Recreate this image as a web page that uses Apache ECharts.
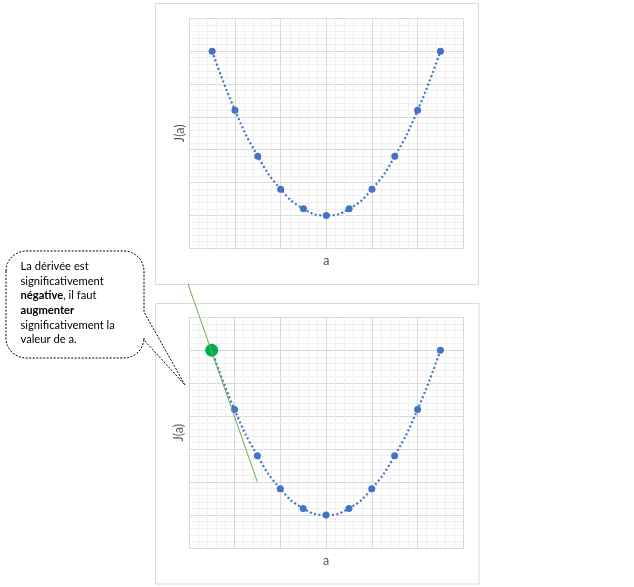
<!DOCTYPE html>
<html>
<head>
<meta charset="utf-8">
<script src="https://cdn.jsdelivr.net/npm/echarts@6/dist/echarts.min.js"></script>
<style>
  html, body { margin: 0; padding: 0; background: #fff; }
  #main { width: 634px; height: 587px; }
</style>
</head>
<body>
<div id="main"></div>
<script>
    // valeurs de a et J(a)
    const aValues = [-2.5, -2, -1.5, -1, -0.5, 0, 0.5, 1, 1.5, 2, 2.5];
    const jValues = [5, 3.2, 1.8, 0.8, 0.2, 0, 0.2, 0.8, 1.8, 3.2, 5];
    // point courant et tangente (graphique du bas)
    const currentPoint = [[-2.5, 5]];
    const tangentLine = [[-3.04, 7.1], [-1.5, 1]];

    const pts = aValues.map((a, i) => [a, jValues[i]]);
    const chart = echarts.init(document.getElementById('main'));

    const FONT = 'Lato, "Open Sans", sans-serif';
    const BLUE = '#4472C4', GRID = '#d9d9d9', MINOR = '#f0f0f0';

    const X = (gi) => ({
        type: 'value', gridIndex: gi, min: -3, max: 3, interval: 1,
        name: 'a', nameLocation: 'middle', nameGap: 6,
        nameTextStyle: {color: '#595959', fontFamily: FONT, fontSize: 12.5},
        axisLabel: {show: false}, axisTick: {show: false}, axisLine: {show: false},
        splitLine: {show: true, lineStyle: {color: GRID, width: 1}},
        minorTick: {show: false, splitNumber: 5},
        minorSplitLine: {show: true, lineStyle: {color: MINOR, width: 1}}
    });
    const Y = (gi) => ({
        type: 'value', gridIndex: gi, min: -1, max: 6, interval: 1,
        name: 'J(a)', nameLocation: 'middle', nameGap: 3, nameRotate: 90,
        nameTextStyle: {color: '#595959', fontFamily: FONT, fontSize: 12.5},
        axisLabel: {show: false}, axisTick: {show: false}, axisLine: {show: false},
        splitLine: {show: true, lineStyle: {color: GRID, width: 1}},
        minorTick: {show: false, splitNumber: 5},
        minorSplitLine: {show: true, lineStyle: {color: MINOR, width: 1}}
    });
    const curve = (gi) => ({
        type: 'line', xAxisIndex: gi, yAxisIndex: gi, data: pts,
        smooth: true, symbol: 'circle', symbolSize: 7,
        lineStyle: {color: BLUE, width: 2.2, type: [2, 2.5]},
        itemStyle: {color: BLUE}, z: 3
    });

    // bulle : rectangle arrondi + pointe
    function arc(cx, cy, r, a0, a1) {
        const out = [];
        for (let i = 0; i <= 8; i++) {
            const t = (a0 + (a1 - a0) * i / 8) * Math.PI / 180;
            out.push([cx + r * Math.cos(t), cy + r * Math.sin(t)]);
        }
        return out;
    }
    const L = 6, T = 251, R = 144, B = 358, r = 20;
    const bubble = [].concat(
        arc(L + r, T + r, r, 180, 270),
        arc(R - r, T + r, r, 270, 360),
        [[R, 312], [185, 385], [R, 340]],
        arc(R - r, B - r, r, 0, 90),
        arc(L + r, B - r, r, 90, 180)
    );

    chart.setOption({
        backgroundColor: '#fff',
        animation: false,
        grid: [
            {left: 189.3, top: 18.3, width: 274, height: 230},
            {left: 188.8, top: 317.3, width: 274.5, height: 230.7}
        ],
        xAxis: [X(0), X(1)],
        yAxis: [Y(0), Y(1)],
        series: [
            curve(0),
            curve(1),
            {
                type: 'scatter', xAxisIndex: 1, yAxisIndex: 1, data: currentPoint,
                symbolSize: 13, itemStyle: {color: '#00B050', opacity: 1}, z: 4
            },
            {
                type: 'line', xAxisIndex: 1, yAxisIndex: 1, data: tangentLine,
                symbol: 'none', clip: false,
                lineStyle: {color: '#70AD47', width: 1}, z: 5
            }
        ],
        graphic: [
            {type: 'rect', shape: {x: 155.5, y: 3.5, width: 323, height: 281},
                style: {fill: 'none', stroke: GRID, lineWidth: 1}, z: -1},
            {type: 'rect', shape: {x: 155.5, y: 303.5, width: 323.5, height: 280.5},
                style: {fill: 'none', stroke: GRID, lineWidth: 1}, z: -1},
            {type: 'polygon', shape: {points: bubble}, z: 10,
                style: {fill: '#fff', stroke: '#000', lineWidth: 1, lineDash: [2, 1.5]}},
            {
                type: 'text', left: 20.5, top: 259, z: 11,
                style: {
                    text: 'La dérivée est\nsignificativement\n{b|négative}, il faut\n{b|augmenter}\nsignificativement la\nvaleur de a.',
                    fontFamily: FONT, fontSize: 11.2, lineHeight: 14.7, fill: '#000',
                    rich: {b: {fontFamily: FONT, fontSize: 11.2, fontWeight: 'bold', lineHeight: 14.7, fill: '#000'}}
                }
            }
        ]
    });
</script>
</body>
</html>
